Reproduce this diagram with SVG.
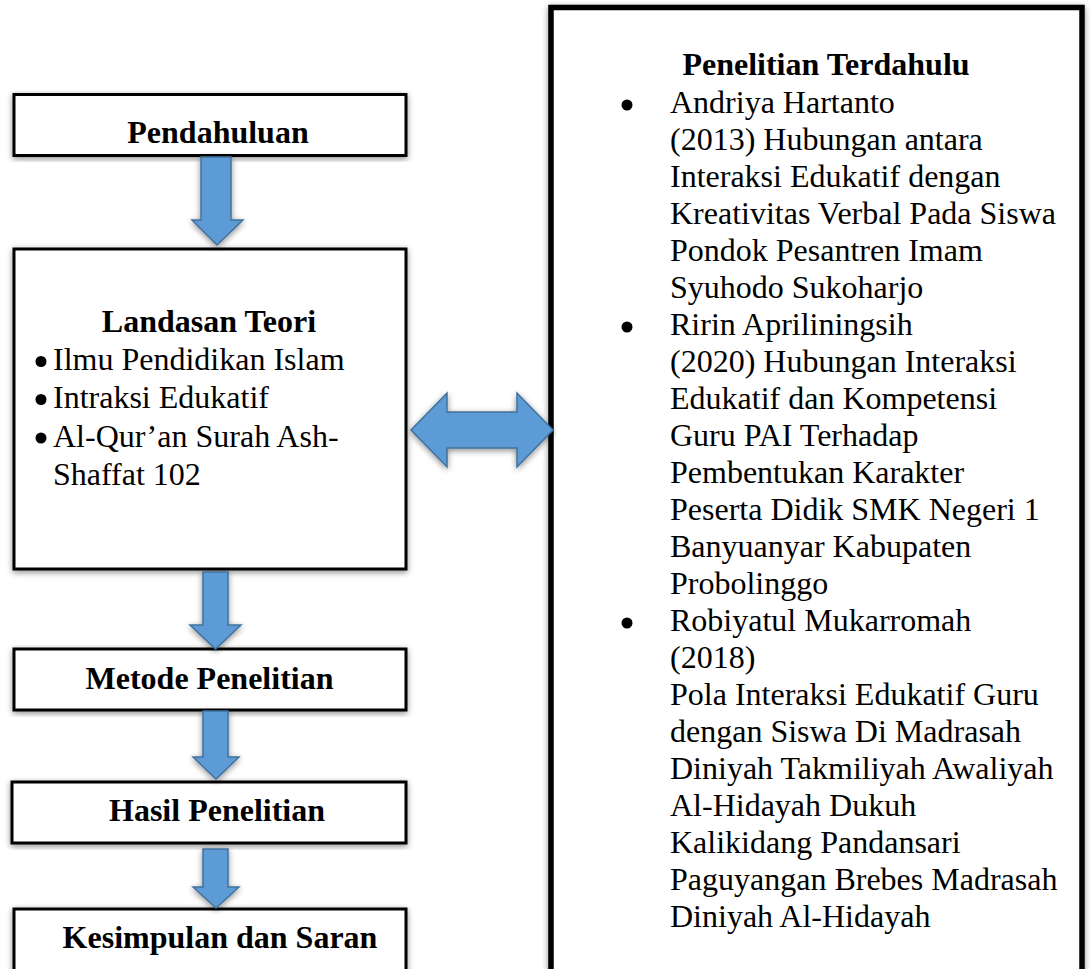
<svg xmlns="http://www.w3.org/2000/svg" width="1091" height="969" viewBox="0 0 1091 969">
<style>
.box{fill:#fff;stroke:#000;stroke-width:3}
.big{fill:#fff;stroke:#000;stroke-width:5.5}
.arr{fill:#5B9BD5;stroke:#41719C;stroke-width:1.5;stroke-linejoin:miter}
.t{font-family:"Liberation Serif","Times New Roman",serif;font-size:32px;fill:#000}
.b{font-weight:bold;text-anchor:middle}
.dot{fill:#000}
</style>
<defs>
<filter id="sh" x="-10%" y="-10%" width="120%" height="120%">
<feGaussianBlur in="SourceAlpha" stdDeviation="3"/>
<feOffset dx="0" dy="2" result="o"/>
<feComponentTransfer><feFuncA type="linear" slope="0.45"/></feComponentTransfer>
<feMerge><feMergeNode/><feMergeNode in="SourceGraphic"/></feMerge>
</filter>
</defs>
<rect width="1091" height="969" fill="#fff"/>

<g id="penelitian-terdahulu">
<rect class="big" x="551" y="7.5" width="531" height="1000" filter="url(#sh)"/>
<text class="t b" x="826" y="75">Penelitian Terdahulu</text>
<circle class="dot" cx="627" cy="105" r="5.5"/>
<circle class="dot" cx="627" cy="327" r="5.5"/>
<circle class="dot" cx="627" cy="623" r="5.5"/>
<text class="t" x="670" y="113"><tspan x="670">Andriya Hartanto</tspan><tspan x="670" dy="37">(2013) Hubungan antara</tspan><tspan x="670" dy="37">Interaksi Edukatif dengan</tspan><tspan x="670" dy="37">Kreativitas Verbal Pada Siswa</tspan><tspan x="670" dy="37">Pondok Pesantren Imam</tspan><tspan x="670" dy="37">Syuhodo Sukoharjo</tspan><tspan x="670" dy="37">Ririn Apriliningsih</tspan><tspan x="670" dy="37">(2020) Hubungan Interaksi</tspan><tspan x="670" dy="37">Edukatif dan Kompetensi</tspan><tspan x="670" dy="37">Guru PAI Terhadap</tspan><tspan x="670" dy="37">Pembentukan Karakter</tspan><tspan x="670" dy="37">Peserta Didik SMK Negeri 1</tspan><tspan x="670" dy="37">Banyuanyar Kabupaten</tspan><tspan x="670" dy="37">Probolinggo</tspan><tspan x="670" dy="37">Robiyatul Mukarromah</tspan><tspan x="670" dy="37">(2018)</tspan><tspan x="670" dy="37">Pola Interaksi Edukatif Guru</tspan><tspan x="670" dy="37">dengan Siswa Di Madrasah</tspan><tspan x="670" dy="37">Diniyah Takmiliyah Awaliyah</tspan><tspan x="670" dy="37">Al-Hidayah Dukuh</tspan><tspan x="670" dy="37">Kalikidang Pandansari</tspan><tspan x="670" dy="37">Paguyangan Brebes Madrasah</tspan><tspan x="670" dy="37">Diniyah Al-Hidayah</tspan></text>
</g>

<g id="pendahuluan">
<rect class="box" x="14" y="94.5" width="392" height="61" filter="url(#sh)"/>
<text class="t b" x="218" y="143">Pendahuluan</text>
</g>

<g id="landasan-teori">
<rect class="box" x="14" y="249" width="392" height="320" filter="url(#sh)"/>
<text class="t b" x="209" y="332">Landasan Teori</text>
<circle class="dot" cx="41" cy="361.5" r="5.5"/>
<circle class="dot" cx="41" cy="399.5" r="5.5"/>
<circle class="dot" cx="41" cy="438" r="5.5"/>
<text class="t" x="53" y="370">Ilmu Pendidikan Islam</text>
<text class="t" x="53" y="408">Intraksi Edukatif</text>
<text class="t" x="53" y="446.5">Al-Qur’an Surah Ash-</text>
<text class="t" x="53" y="485">Shaffat 102</text>
</g>

<g id="metode-penelitian">
<rect class="box" x="14" y="649" width="392" height="61" filter="url(#sh)"/>
<text class="t b" x="209.5" y="689">Metode Penelitian</text>
</g>

<g id="hasil-penelitian">
<rect class="box" x="12" y="782" width="394" height="61" filter="url(#sh)"/>
<text class="t b" x="217" y="821">Hasil Penelitian</text>
</g>

<g id="kesimpulan-dan-saran">
<rect class="box" x="14" y="909" width="392" height="100" filter="url(#sh)"/>
<text class="t b" x="220" y="948">Kesimpulan dan Saran</text>
</g>

<g id="connectors">
<path class="arr" filter="url(#sh)" d="M201,157 H231 V220 H243 L217,245 L192,220 H201 Z"/>
<path class="arr" filter="url(#sh)" d="M203,572 H228 V625 H241 L215.5,649 L190,625 H203 Z"/>
<path class="arr" filter="url(#sh)" d="M203,711 H228 V757 H239 L216,779 L193,757 H203 Z"/>
<path class="arr" filter="url(#sh)" d="M203,849 H228 V887 H239 L216,908 L193,887 H203 Z"/>
<path class="arr" filter="url(#sh)" d="M411,430 L447,393 V412 H517 V393 L553,430 L517,467 V448 H447 V467 Z"/>
</g>
</svg>
